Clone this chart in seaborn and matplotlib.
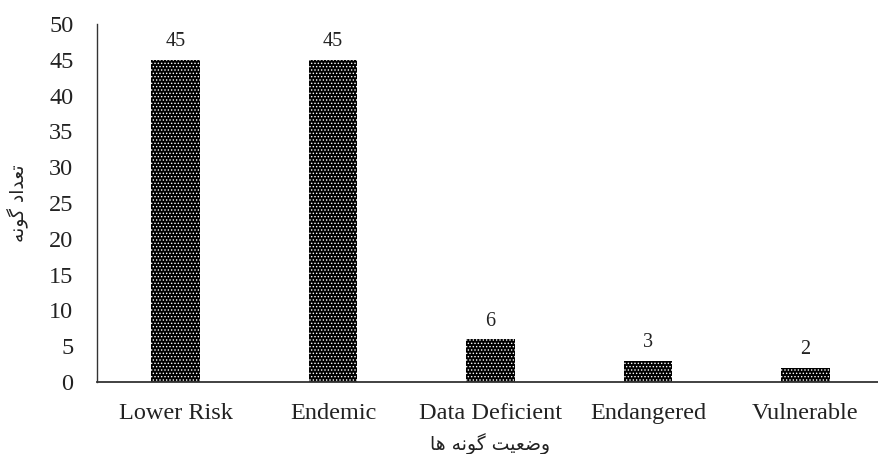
import matplotlib
matplotlib.use("Agg")
import matplotlib.pyplot as plt
import seaborn as sns

# Species conservation status counts
categories = ["Lower Risk", "Endemic", "Data Deficient", "Endangered", "Vulnerable"]
counts = [45, 45, 6, 3, 2]
y_ticks = [0, 5, 10, 15, 20, 25, 30, 35, 40, 45, 50]
x_title = "وضعیت گونه ها"
y_title = "تعداد گونه"

# Contextual glyph forms (isolated, final, initial, medial) for the letters used;
# letters with only two forms do not join to the following letter.
FORMS = {
    "ا": ("\uFE8D", "\uFE8E"),
    "د": ("\uFEA9", "\uFEAA"),
    "و": ("\uFEED", "\uFEEE"),
    "ت": ("\uFE95", "\uFE96", "\uFE97", "\uFE98"),
    "ع": ("\uFEC9", "\uFECA", "\uFECB", "\uFECC"),
    "گ": ("\uFB92", "\uFB93", "\uFB94", "\uFB95"),
    "ن": ("\uFEE5", "\uFEE6", "\uFEE7", "\uFEE8"),
    "ه": ("\uFEE9", "\uFEEA", "\uFEEB", "\uFEEC"),
    "ض": ("\uFEBD", "\uFEBE", "\uFEBF", "\uFEC0"),
    "ی": ("\uFBFC", "\uFBFD", "\uFBFE", "\uFBFF"),
}


def shape_rtl(text):
    out = []
    for i, ch in enumerate(text):
        if ch not in FORMS:
            out.append(ch)
            continue
        prev = text[i - 1] if i > 0 else ""
        nxt = text[i + 1] if i + 1 < len(text) else ""
        join_prev = prev in FORMS and len(FORMS[prev]) == 4
        join_next = len(FORMS[ch]) == 4 and nxt in FORMS
        f = FORMS[ch]
        if join_prev and join_next:
            out.append(f[3])
        elif join_prev:
            out.append(f[1])
        elif join_next:
            out.append(f[2])
        else:
            out.append(f[0])
    return "".join(reversed(out))


sns.set_theme(style="white")
plt.rcParams["font.family"] = ["Liberation Serif", "DejaVu Sans"]
plt.rcParams["hatch.color"] = "white"
plt.rcParams["hatch.linewidth"] = 0.6

fig = plt.figure(figsize=(8.79, 4.54), dpi=100)
ax = fig.add_axes([97 / 879, 72 / 454, 787 / 879, 358 / 454])

sns.barplot(x=categories, y=counts, color="black", saturation=1, width=0.31, ax=ax)
for p in ax.patches:
    p.set_facecolor("black")
    p.set_edgecolor("white")
    p.set_linewidth(0)
    p.set_hatch(".....")

ax.bar_label(ax.containers[0], labels=[str(v) for v in counts], padding=6,
             fontsize=14.5, color="#222222")

ax.set_ylim(0, 50)
ax.set_yticks(y_ticks)
ax.set_xlim(-0.5, len(categories) - 0.5)
ax.tick_params(axis="both", length=0, labelsize=17.5, colors="#222222")
ax.tick_params(axis="y", pad=17)
ax.tick_params(axis="x", pad=15)

for s in ["top", "right"]:
    ax.spines[s].set_visible(False)
ax.spines["left"].set_color("#333333")
ax.spines["bottom"].set_color("#333333")
ax.spines["left"].set_linewidth(1.0)
ax.spines["bottom"].set_linewidth(1.3)

ax.set_xlabel(shape_rtl(x_title), fontsize=13.5, family=["DejaVu Sans"], labelpad=7, color="#222222")
ax.set_ylabel(shape_rtl(y_title), fontsize=13.5, family=["DejaVu Sans"], color="#222222")
ax.yaxis.set_label_coords(-0.087, 0.5)

fig.savefig("out.png", dpi=100, facecolor="white")
